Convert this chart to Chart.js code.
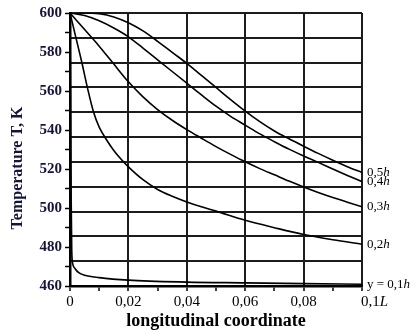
<!DOCTYPE html>
<html>
<head>
<meta charset="utf-8">
<script src="https://cdn.jsdelivr.net/npm/chart.js@4.4.1/dist/chart.umd.min.js"></script>
<style>
  body { margin: 0; background: #fff; }
  canvas { display: block; }
</style>
</head>
<body>
<canvas id="tempChart" width="418" height="332"></canvas>
<script>
// longitudinal coordinate (fraction of L) for the three upper curves
const xUpper = [0, 0.005, 0.01, 0.015, 0.02, 0.025, 0.03, 0.035, 0.04, 0.045, 0.05,
                0.055, 0.06, 0.065, 0.07, 0.075, 0.08, 0.085, 0.09, 0.095, 0.1];
// temperature, K
const t05h = [600, 600, 599.6, 598, 595, 590.8, 585.5, 579.8, 574.2, 568, 561.8,
              555.6, 549.7, 544.3, 539.5, 535.5, 531.7, 528, 524.5, 521.2, 518.2];
const t04h = [600, 598.7, 596, 592.3, 587.8, 582, 576, 570, 564, 558, 552.2,
              547, 542.5, 538, 534, 530.2, 526.7, 523.4, 520, 516.7, 513.5];
const t03h = [600, 591.5, 583, 573.8, 564.7, 557, 550.5, 545, 540.2, 535.8, 531.5,
              527.5, 523.7, 520.2, 517, 513.8, 510.8, 508, 505.4, 503, 500.6];

const x02h = [0, 0.002, 0.004, 0.006, 0.008, 0.01, 0.0125, 0.015, 0.0175, 0.02, 0.025,
              0.03, 0.035, 0.04, 0.045, 0.05, 0.06, 0.07, 0.08, 0.09, 0.1];
const t02h = [600, 587.5, 575, 561.5, 549.5, 541.5, 535, 529.5, 525, 521.1, 514.5,
              509.5, 506, 503.1, 500.6, 498.4, 493.7, 489.9, 486.4, 483.7, 481.4];

const x01h = [0, 0.0002, 0.0004, 0.0006, 0.001, 0.0017, 0.003, 0.005, 0.01, 0.02,
              0.04, 0.06, 0.08, 0.1];
const t01h = [600, 555, 505, 478, 471, 469, 466.8, 465.5, 464.3, 463,
              462, 461.6, 461.2, 460.9];

const curveNames = ['0,5', '0,4', '0,3', '0,2', 'y = 0,1'];
const yTickLabels = [460, 480, 500, 520, 540, 560, 580, 600];
const gridRows = 11; // horizontal grid lines split the range in 11 parts

function toPoints(xs, ys) {
    return xs.map((x, i) => ({ x: x, y: ys[i] }));
}

function fmtX(v) {
    const n = Math.round(v * 100);
    if (n === 0) return '0';
    if (n % 2 !== 0 || n === 10) return '';
    return '0,' + String(n).padStart(2, '0');
}

const serif = '"Liberation Serif", "Times New Roman", serif';

// labels at the end of each curve, axis title, last x tick
const textPlugin = {
    id: 'textPlugin',
    afterDraw(chart) {
        const ctx = chart.ctx;
        const area = chart.chartArea;
        const yScale = chart.scales.y;
        ctx.save();
        ctx.fillStyle = '#000';
        ctx.textBaseline = 'middle';
        ctx.textAlign = 'left';
        chart.data.datasets.forEach((ds, i) => {
            const last = ds.data[ds.data.length - 1];
            const y = yScale.getPixelForValue(last.y);
            const x = area.right + 5;
            ctx.font = '13px ' + serif;
            ctx.fillText(curveNames[i], x, y);
            const w = ctx.measureText(curveNames[i]).width;
            ctx.font = 'italic 13px ' + serif;
            ctx.fillText('h', x + w, y);
        });

        // last x tick "0,1L"
        const xs = chart.scales.x;
        const px = xs.getPixelForValue(0.1);
        ctx.font = '15px ' + serif;
        ctx.fillText('0,1', px - 1, 302);
        const w1 = ctx.measureText('0,1').width;
        ctx.font = 'italic 15px ' + serif;
        ctx.fillText('L', px - 1 + w1, 302);

        // y axis title
        ctx.translate(18, 168);
        ctx.rotate(-Math.PI / 2);
        ctx.textAlign = 'center';
        ctx.fillStyle = '#14143c';
        ctx.font = 'bold 16px ' + serif;
        ctx.fillText('Temperature T, K', 0, 0);
        ctx.restore();
    }
};

const lineStyle = {
    borderColor: '#000',
    borderWidth: 1.6,
    pointRadius: 0,
    fill: false,
    cubicInterpolationMode: 'monotone'
};

const tempChart = new Chart(document.getElementById('tempChart').getContext('2d'), {
    type: 'line',
    data: {
        datasets: [
            Object.assign({ label: '0,5h', data: toPoints(xUpper, t05h) }, lineStyle),
            Object.assign({ label: '0,4h', data: toPoints(xUpper, t04h) }, lineStyle),
            Object.assign({ label: '0,3h', data: toPoints(xUpper, t03h) }, lineStyle),
            Object.assign({ label: '0,2h', data: toPoints(x02h, t02h) }, lineStyle),
            Object.assign({ label: '0,1h', data: toPoints(x01h, t01h) }, lineStyle)
        ]
    },
    options: {
        responsive: false,
        animation: false,
        devicePixelRatio: 1,
        layout: { padding: { left: 0, top: 13, right: 56, bottom: 0 } },
        plugins: { legend: { display: false }, tooltip: { enabled: false } },
        scales: {
            x: {
                type: 'linear',
                min: 0,
                max: 0.1,
                afterFit: s => { s.height = 46; },
                ticks: {
                    stepSize: 0.01,
                    autoSkip: false,
                    maxRotation: 0,
                    padding: 2,
                    color: '#000',
                    font: { family: serif, size: 15 },
                    callback: v => fmtX(v)
                },
                grid: {
                    color: c => (Math.round(c.tick.value * 100) % 2 === 0 ? '#1c1c1c' : 'rgba(0,0,0,0)'),
                    lineWidth: 2,
                    tickLength: 5,
                    tickColor: '#000',
                    tickWidth: 1.5
                },
                border: { display: true, color: '#000', width: 2.5 },
                title: {
                    display: true,
                    text: 'longitudinal coordinate',
                    color: '#000',
                    padding: 0,
                    font: { family: serif, size: 18, weight: 'bold' }
                }
            },
            y: {
                type: 'linear',
                min: 460,
                max: 600,
                afterFit: s => { s.width = 70; },
                afterBuildTicks: s => {
                    const t = [];
                    for (let v = 460; v <= 600; v += 10) t.push({ value: v });
                    s.ticks = t;
                },
                ticks: {
                    autoSkip: false,
                    padding: 3,
                    color: '#14143c',
                    font: { family: serif, size: 15, weight: 'bold' },
                    callback: v => (yTickLabels.includes(v) ? String(v) : '')
                },
                grid: {
                    drawOnChartArea: false,
                    tickLength: 5,
                    tickColor: '#000',
                    tickWidth: 1.5
                },
                border: { display: true, color: '#000', width: 2.5 }
            },
            yGrid: {
                type: 'linear',
                position: 'left',
                min: 460,
                max: 600,
                afterFit: s => { s.width = 0; },
                afterBuildTicks: s => {
                    const t = [];
                    for (let i = 0; i <= gridRows; i++) t.push({ value: 460 + (140 * i) / gridRows });
                    s.ticks = t;
                },
                ticks: { display: false },
                grid: { color: '#1c1c1c', lineWidth: 2, drawTicks: false },
                border: { display: false }
            }
        }
    },
    plugins: [textPlugin]
});
</script>
</body>
</html>
